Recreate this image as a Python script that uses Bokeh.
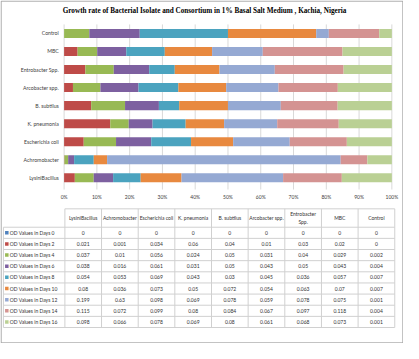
from bokeh.plotting import figure
from bokeh.models import Range1d, ColumnDataSource
from bokeh.embed import file_html
from bokeh.resources import INLINE
from bokeh.core.properties import value

organisms = ["LysiniBacillus", "Achromobacter", "Escherichia coli", "K. pneumonia",
             "B. subtilus", "Arcobacter spp.", "Entrobacter Spp.", "MBC", "Control"]
header_labels = ["LysiniBacillus", "Achromobacter", "Escherichia coli", "K. pneumonia",
                 "B. subtilus", "Arcobacter spp.", "Entrobacter\nSpp.", "MBC", "Control"]

day_numbers = [0, 2, 4, 6, 8, 10, 12, 14, 16]
day0 = [0, 0, 0, 0, 0, 0, 0, 0, 0]
day2 = [0.021, 0.001, 0.034, 0.06, 0.04, 0.01, 0.03, 0.02, 0]
day4 = [0.037, 0.01, 0.056, 0.024, 0.05, 0.031, 0.04, 0.029, 0.002]
day6 = [0.038, 0.016, 0.061, 0.031, 0.05, 0.043, 0.05, 0.043, 0.004]
day8 = [0.054, 0.053, 0.069, 0.043, 0.03, 0.045, 0.036, 0.057, 0.007]
day10 = [0.08, 0.036, 0.073, 0.05, 0.072, 0.054, 0.063, 0.07, 0.007]
day12 = [0.199, 0.63, 0.098, 0.069, 0.078, 0.059, 0.078, 0.075, 0.001]
day14 = [0.115, 0.072, 0.099, 0.08, 0.084, 0.067, 0.097, 0.118, 0.004]
day16 = [0.098, 0.066, 0.078, 0.069, 0.08, 0.061, 0.068, 0.073, 0.001]

series = [day0, day2, day4, day6, day8, day10, day12, day14, day16]
series_names = ["OD Values in Days  %d" % d for d in day_numbers]
colors = ["#4F81BD", "#BE4B48", "#98B954", "#7D60A0", "#4BA3BF",
          "#E8893F", "#95A9D3", "#D49392", "#BAD094"]

pct_ticks = [0, 0.1, 0.2, 0.3, 0.4, 0.5, 0.6, 0.7, 0.8, 0.9, 1.0]
pct_labels = ["0%", "10%", "20%", "30%", "40%", "50%", "60%", "70%", "80%", "90%", "100%"]

TITLE = "Growth rate of Bacterial Isolate and Consortium  in 1%  Basal Salt Medium , Kachia, Nigeria"
FONT = "Lato"
TXT = "#333333"

# one canvas; main ranges are in chart-image units, extra ranges carry the data scales
p = figure(width=403, height=343, x_range=Range1d(2, 417), y_range=Range1d(356, 2),
           output_backend="svg", toolbar_location=None, min_border=0,
           x_axis_location=None, y_axis_location=None)
p.grid.grid_line_color = None
p.outline_line_color = None
p.extra_x_ranges = {"pct": Range1d(-0.19407, 1.03556)}
p.extra_y_ranges = {"cat": Range1d(17.181, -1.8255)}

# outer frame
p.quad(left=[2.6], right=[416.4], top=[2.6], bottom=[355.4],
       fill_color=None, line_color="#9a9a9a", line_width=1)

# ---- stacked 100% bar chart ----
n = len(organisms)
totals = [sum(s[i] for s in series) for i in range(n)]
cat_pos = [n - 1 - i for i in range(n)]  # Control on top
data = {"pos": cat_pos}
keys = []
for k, s in enumerate(series):
    key = "d%d" % day_numbers[k]
    keys.append(key)
    data[key] = [v / t if t else 0 for v, t in zip(s, totals)]
src = ColumnDataSource(data)

# gridlines at the percentage ticks
p.segment(x0=pct_ticks, x1=pct_ticks, y0=[-0.5] * len(pct_ticks), y1=[8.65] * len(pct_ticks),
          x_range_name="pct", y_range_name="cat", line_color="#d9d9d9", line_width=1)

p.hbar_stack(keys, y="pos", height=0.5, color=colors, source=src, line_color=None,
             x_range_name="pct", y_range_name="cat")

# x tick labels
p.text(x=pct_ticks, y=[9.07] * len(pct_ticks), text=pct_labels, x_range_name="pct",
       y_range_name="cat", text_font=value(FONT), text_font_size="5px", text_color="#404040",
       text_align="center", text_baseline="middle")
# category labels
p.text(x=[62] * n, y=cat_pos, text=organisms, y_range_name="cat",
       text_font=value(FONT), text_font_size="5.2px", text_color="#404040",
       text_align="right", text_baseline="middle")
# title
p.text(x=[214], y=[12.5], text=[TITLE], text_font=value("Liberation Serif"),
       text_font_style="bold", text_font_size="7.2px", text_color="#000000",
       text_align="center", text_baseline="middle")

# ---- data table ----
left = 5.0
col0 = 68.3
colw = (408.0 - 68.3) / 9
edges = [col0 + i * colw for i in range(n + 1)]
centers = [col0 + (i + 0.5) * colw for i in range(n)]
top = 217.0
head_bot = 236.0
rowh = 11.5
nrow = len(series)
row_tops = [head_bot + i * rowh for i in range(nrow + 1)]
row_cent = [head_bot + (i + 0.5) * rowh for i in range(nrow)]

x0s, y0s, x1s, y1s = [], [], [], []
x0s.append(edges[0]); x1s.append(edges[-1]); y0s.append(top); y1s.append(top)
for y in row_tops:
    x0s.append(left); x1s.append(edges[-1]); y0s.append(y); y1s.append(y)
x0s.append(left); x1s.append(left); y0s.append(head_bot); y1s.append(row_tops[-1])
for x in edges:
    x0s.append(x); x1s.append(x); y0s.append(top); y1s.append(row_tops[-1])
p.segment(x0s, y0s, x1s, y1s, line_color="#d0d0d0", line_width=1)

p.text(x=centers, y=[(top + head_bot) / 2] * n, text=header_labels,
       text_font=value(FONT), text_font_size="5px", text_color=TXT,
       text_align="center", text_baseline="middle", text_line_height=1.3)

vx, vy, vt = [], [], []
for r, s in enumerate(series):
    for c, v in enumerate(s):
        vx.append(centers[c]); vy.append(row_cent[r]); vt.append("%g" % v)
p.text(x=vx, y=vy, text=vt, text_font=value(FONT), text_font_size="5px",
       text_color=TXT, text_align="center", text_baseline="middle")

p.scatter(x=[left + 3.5] * nrow, y=row_cent, marker="square", size=3.5, color=colors, line_color=None)
p.text(x=[left + 6.5] * nrow, y=row_cent, text=series_names, text_font=value(FONT),
       text_font_size="5px", text_color=TXT, text_align="left", text_baseline="middle")

open("out.html", "w").write(file_html(p, INLINE))
